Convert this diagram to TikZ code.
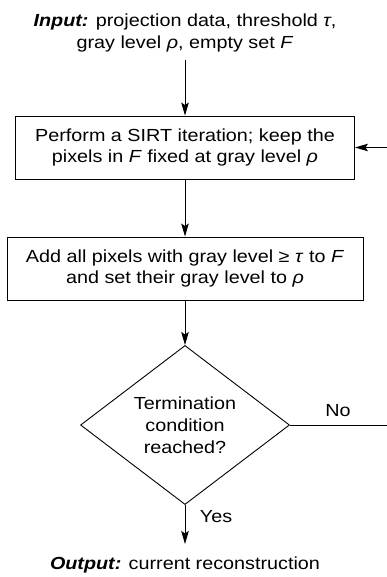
\documentclass[tikz,border=0pt]{standalone}
\usepackage{fontspec}
\setmainfont[FakeStretch=1.13]{Liberation Sans}
\usetikzlibrary{shapes.geometric,arrows.meta}
\begin{document}
\begin{tikzpicture}[x=1pt,y=-1pt,
  every node/.style={font=\fontsize{17.5}{21}\selectfont, text=black},
  flow/.style={line width=0.9pt, -{Stealth[length=13pt,width=7.5pt,inset=2.5pt]}},
  procbox/.style={draw, line width=0.9pt, align=center, inner sep=0pt, font=\fontsize{17.5}{20.5}\selectfont},
  decision/.style={draw, line width=0.9pt, shape=diamond, align=center, inner sep=0pt, minimum width=209pt, minimum height=140pt, font=\fontsize{17.5}{22}\selectfont},
  plain/.style={align=center, inner sep=0pt}]
\useasboundingbox (0,0) rectangle (386,577);
\node[plain, font=\fontsize{17.5}{22}\selectfont] (input) at (185,32.5) {\textbf{\textit{Input:}} projection data, threshold \textit{τ},\\ gray level \textit{ρ}, empty set \textit{F}};
\coordinate (instart) at (185,60);
\node[procbox, minimum width=339pt, minimum height=63pt] (box1) at (185,147.5) {Perform a SIRT iteration; keep the\\ pixels in \textit{F} fixed at gray level \textit{ρ}};
\node[procbox, minimum width=356pt, minimum height=63pt] (box2) at (185,268.5) {Add all pixels with gray level ≥ \textit{τ} to \textit{F}\\ and set their gray level to \textit{ρ}};
\node[decision] (dec) at (185,425) {Termination\\ condition\\ reached?};
\node[plain] (output) at (185,565) {\textbf{\textit{Output:}} current reconstruction};
\coordinate (outend) at (185,544);
\coordinate (loop) at (394,425);
\node[plain] (no) at (338,411) {No};
\node[plain] (yes) at (216,516.5) {Yes};
\draw[flow] (instart) -- (box1.north);
\draw[flow] (box1.south) -- (box2.north);
\draw[flow] (box2.south) -- (dec.north);
\draw[flow] (dec.south) -- (outend);
\draw[flow] (dec.east) -- (loop) |- (box1.east);
\end{tikzpicture}
\end{document}
